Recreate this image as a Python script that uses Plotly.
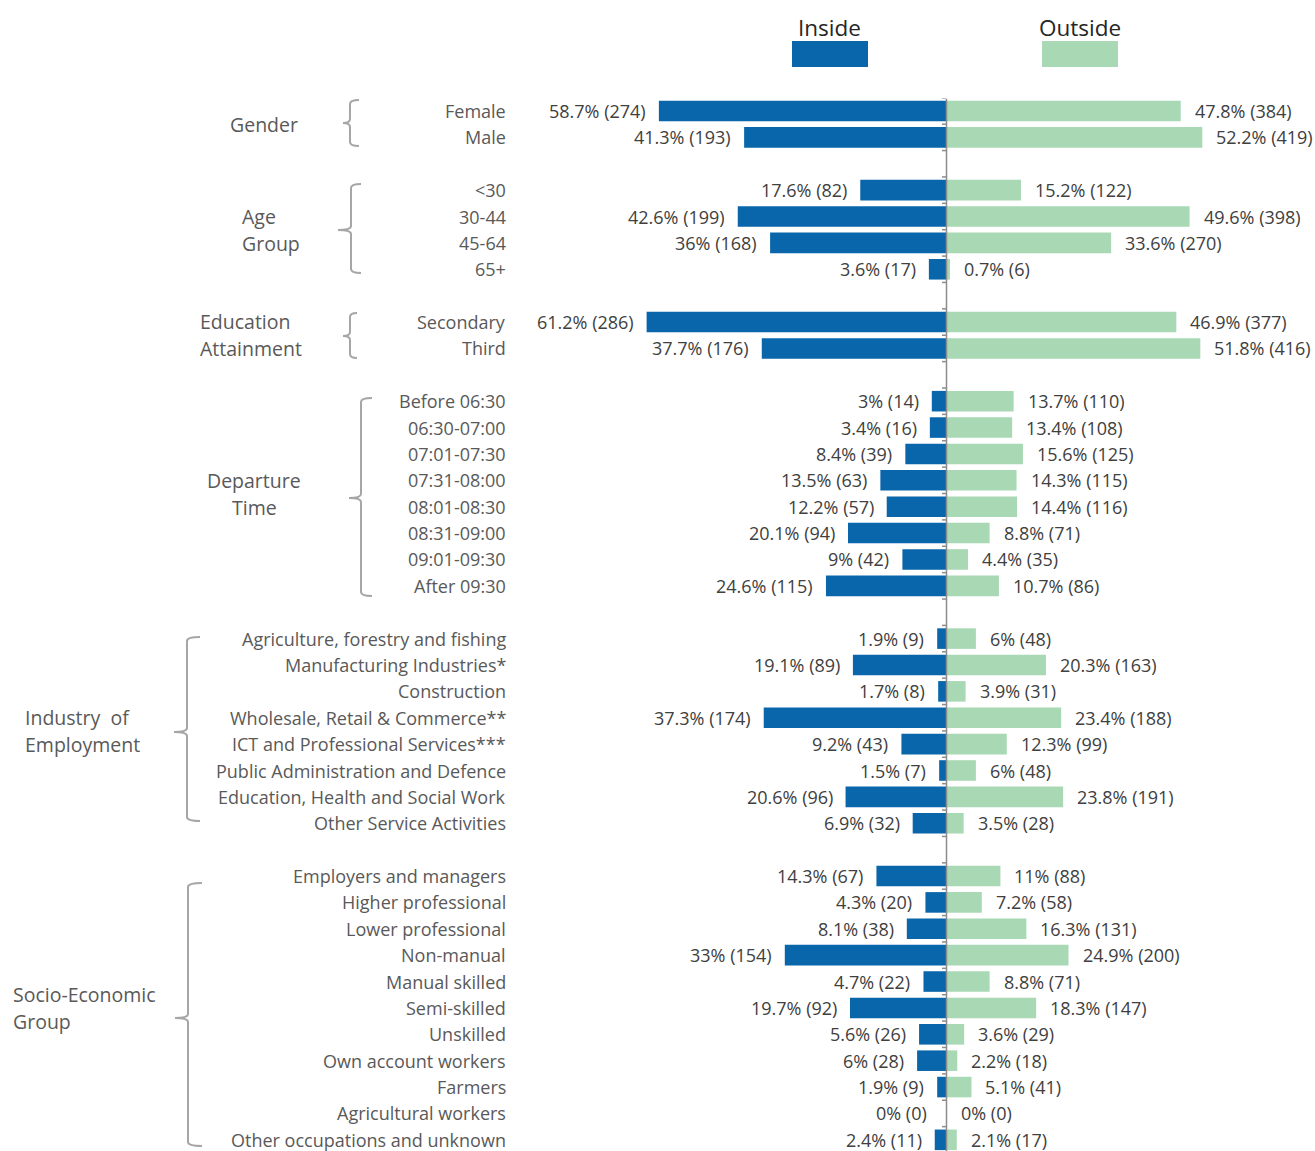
import plotly.graph_objects as go

# ---------------- data ----------------
gender_cats = ["Female", "Male"]
gender_in_pct = [58.7, 41.3]
gender_in_n = [274, 193]
gender_out_pct = [47.8, 52.2]
gender_out_n = [384, 419]

age_cats = ["<30", "30-44", "45-64", "65+"]
age_in_pct = [17.6, 42.6, 36, 3.6]
age_in_n = [82, 199, 168, 17]
age_out_pct = [15.2, 49.6, 33.6, 0.7]
age_out_n = [122, 398, 270, 6]

edu_cats = ["Secondary", "Third"]
edu_in_pct = [61.2, 37.7]
edu_in_n = [286, 176]
edu_out_pct = [46.9, 51.8]
edu_out_n = [377, 416]

dep_cats = ["Before 06:30", "06:30-07:00", "07:01-07:30", "07:31-08:00",
            "08:01-08:30", "08:31-09:00", "09:01-09:30", "After 09:30"]
dep_in_pct = [3, 3.4, 8.4, 13.5, 12.2, 20.1, 9, 24.6]
dep_in_n = [14, 16, 39, 63, 57, 94, 42, 115]
dep_out_pct = [13.7, 13.4, 15.6, 14.3, 14.4, 8.8, 4.4, 10.7]
dep_out_n = [110, 108, 125, 115, 116, 71, 35, 86]

ind_cats = ["Agriculture, forestry and fishing", "Manufacturing Industries*",
            "Construction", "Wholesale, Retail & Commerce**",
            "ICT and Professional Services***", "Public Administration and Defence",
            "Education, Health and Social Work", "Other Service Activities"]
ind_in_pct = [1.9, 19.1, 1.7, 37.3, 9.2, 1.5, 20.6, 6.9]
ind_in_n = [9, 89, 8, 174, 43, 7, 96, 32]
ind_out_pct = [6, 20.3, 3.9, 23.4, 12.3, 6, 23.8, 3.5]
ind_out_n = [48, 163, 31, 188, 99, 48, 191, 28]

seg_cats = ["Employers and managers", "Higher professional", "Lower professional",
            "Non-manual", "Manual skilled", "Semi-skilled", "Unskilled",
            "Own account workers", "Farmers", "Agricultural workers",
            "Other occupations and unknown"]
seg_in_pct = [14.3, 4.3, 8.1, 33, 4.7, 19.7, 5.6, 6, 1.9, 0, 2.4]
seg_in_n = [67, 20, 38, 154, 22, 92, 26, 28, 9, 0, 11]
seg_out_pct = [11, 7.2, 16.3, 24.9, 8.8, 18.3, 3.6, 2.2, 5.1, 0, 2.1]
seg_out_n = [88, 58, 131, 200, 71, 147, 29, 18, 41, 0, 17]

group_names = [["Gender"], ["Age", "Group"], ["Education", "Attainment"],
               ["Departure", "Time"], ["Industry  of", "Employment"],
               ["Socio-Economic", "Group"]]
series_names = ["Inside", "Outside"]

groups = [
    (gender_cats, gender_in_pct, gender_in_n, gender_out_pct, gender_out_n),
    (age_cats, age_in_pct, age_in_n, age_out_pct, age_out_n),
    (edu_cats, edu_in_pct, edu_in_n, edu_out_pct, edu_out_n),
    (dep_cats, dep_in_pct, dep_in_n, dep_out_pct, dep_out_n),
    (ind_cats, ind_in_pct, ind_in_n, ind_out_pct, ind_out_n),
    (seg_cats, seg_in_pct, seg_in_n, seg_out_pct, seg_out_n),
]

# ---------------- layout / style ----------------
OFF = 0                      # page body margin removed via post_script
W, H = 1315 - OFF, 1151 - OFF
TOP = 98 - OFF
CENTER_PX = 946.5 - OFF
PX_PER_PCT = 4.9
ROW0_PX, PITCH = 111 - OFF, 26.38
LINE_GAP = 27

BLUE = "#0a66ab"
GREEN = "#a9d8b5"
VAL_COLOR = "#404040"
CAT_COLOR = "#595959"
BRACE_COLOR = "#a6a6a6"
FONT = "Open Sans"

# group label placement (reference pixels): (x, anchor)
group_label_style = [
    (264, "center"), (240, "left"), (198, "left"),
    (254, "center"), (23, "left"), (11, "left"),
]
# braces (reference pixels): (x, serif end x, tip x, top, bottom, tip y)
brace_style = [
    (350, 359, 343, 100, 146, 123),
    (351, 361, 338, 184, 273, 230),
    (350, 357, 343, 313, 358, 336),
    (361, 372, 349, 398, 596, 498),
    (187, 200, 174, 637, 821, 732),
    (188, 202, 175, 883, 1146, 1018),
]


def pxx(p):
    return (p - OFF) / W


def pxy(p):
    return (H - (p - OFF)) / (H - TOP)


# build rows
cats, ys, in_pct, in_n, out_pct, out_n = [], [], [], [], [], []
group_rows = []
row = 0
for g in groups:
    c, ip, inn, op, on = g
    start = row
    for k in range(len(c)):
        cats.append(c[k]); ys.append(row)
        in_pct.append(ip[k]); in_n.append(inn[k])
        out_pct.append(op[k]); out_n.append(on[k])
        row += 1
    group_rows.append((start, row - 1))
    row += 1  # blank separator
n_rows = row - 1

fig = go.Figure()
fig.add_trace(go.Bar(
    name=series_names[0], orientation="h", y=ys, x=[-v for v in in_pct],
    width=0.78, marker=dict(color=BLUE, line=dict(width=0)), hoverinfo="skip"))
fig.add_trace(go.Bar(
    name=series_names[1], orientation="h", y=ys, x=out_pct,
    width=0.78, marker=dict(color=GREEN, line=dict(width=0)), hoverinfo="skip"))

annotations = []
for i in range(len(ys)):
    annotations.append(dict(
        x=-in_pct[i], y=ys[i], xref="x", yref="y", xanchor="right", yanchor="middle",
        xshift=-11 if in_pct[i] > 0 else -18,
        text=f"{in_pct[i]:g}% ({in_n[i]})", showarrow=False,
        font=dict(family=FONT, size=18, color=VAL_COLOR)))
    annotations.append(dict(
        x=out_pct[i], y=ys[i], xref="x", yref="y", xanchor="left", yanchor="middle",
        xshift=12, text=f"{out_pct[i]:g}% ({out_n[i]})", showarrow=False,
        font=dict(family=FONT, size=18, color=VAL_COLOR)))
    annotations.append(dict(
        x=pxx(508), y=ys[i], xref="paper", yref="y", xanchor="right", yanchor="middle",
        text=cats[i], showarrow=False,
        font=dict(family=FONT, size=18, color=CAT_COLOR)))

shapes = []
for gi, (s, e) in enumerate(group_rows):
    lx, anc = group_label_style[gi]
    lines = group_names[gi]
    nl = len(lines)
    for li, txt in enumerate(lines):
        annotations.append(dict(
            x=pxx(lx), y=(s + e) / 2, xref="paper", yref="y", xanchor=anc,
            yanchor="middle", yshift=-(li - (nl - 1) / 2) * LINE_GAP,
            text=txt, showarrow=False,
            font=dict(family=FONT, size=19.5, color=CAT_COLOR)))
    bx, sx, tx, t, b, m = brace_style[gi]
    r = 4
    pts = [
        ("M", [(sx, t)]),
        ("Q", [(bx, t), (bx, t + r)]),
        ("L", [(bx, m - r)]),
        ("Q", [(bx, m), (tx, m)]),
        ("Q", [(bx, m), (bx, m + r)]),
        ("L", [(bx, b - r)]),
        ("Q", [(bx, b), (sx, b)]),
    ]
    path = " ".join(cmd + " " + " ".join(f"{pxx(a):.5f},{pxy(c):.5f}" for a, c in pp)
                    for cmd, pp in pts)
    shapes.append(dict(type="path", xref="paper", yref="paper", path=path,
                       line=dict(color=BRACE_COLOR, width=2)))

# central axis and ticks between rows
shapes.append(dict(type="line", xref="x", yref="paper", x0=0, x1=0,
                   y0=0, y1=pxy(99), line=dict(color="#8c8c8c", width=1.5)))
for k in range(-1, n_rows + 1):
    shapes.append(dict(type="line", xref="x", yref="y", x0=-4.5 / PX_PER_PCT, x1=0,
                       y0=k + 0.5, y1=k + 0.5, line=dict(color="#8c8c8c", width=1.5)))

# legend
legend_items = [(series_names[0], BLUE, 830), (series_names[1], GREEN, 1080)]
for name, col, cx in legend_items:
    shapes.append(dict(type="rect", xref="paper", yref="paper",
                       x0=pxx(cx - 38), x1=pxx(cx + 38), y0=pxy(67), y1=pxy(41),
                       fillcolor=col, line=dict(width=0)))
    annotations.append(dict(x=pxx(cx), y=pxy(27), xref="paper", yref="paper",
                            xanchor="center", yanchor="middle", text=name,
                            showarrow=False,
                            font=dict(family=FONT, size=22.5, color="#262626")))

x_left = -CENTER_PX / PX_PER_PCT
x_right = (W - CENTER_PX) / PX_PER_PCT
y_top = -(ROW0_PX - TOP) / PITCH
y_bot = (H - ROW0_PX) / PITCH

fig.update_layout(
    width=W, height=H,
    margin=dict(l=0, r=0, t=TOP, b=0, pad=0),
    plot_bgcolor="white", paper_bgcolor="white",
    barmode="overlay", showlegend=False,
    xaxis=dict(range=[x_left, x_right], visible=False, fixedrange=True),
    yaxis=dict(range=[y_bot, y_top], visible=False, fixedrange=True),
    annotations=annotations, shapes=shapes,
    font=dict(family=FONT),
)

fig.write_html(
    "out.html",
    config={"displayModeBar": False},
    post_script="document.body.style.margin='0';document.body.style.overflow='hidden';",
)
